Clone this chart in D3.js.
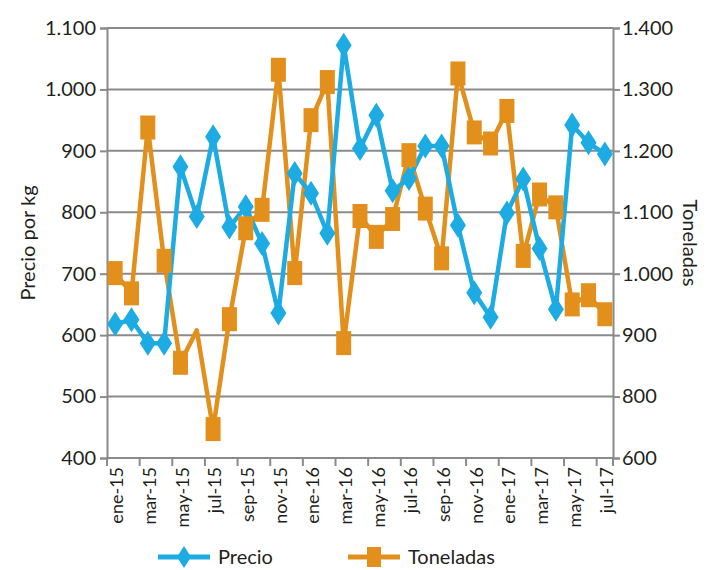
<!DOCTYPE html>
<html>
<head>
<meta charset="utf-8">
<script src="https://cdn.jsdelivr.net/npm/d3@7"></script>
<style>
  body { margin: 0; background: #fff; }
  text { font-family: "Lato", "Open Sans", sans-serif; fill: #231f20; }
</style>
</head>
<body>
<svg id="chart" width="713" height="570"></svg>
<script>
const months = ["ene-15","feb-15","mar-15","abr-15","may-15","jun-15","jul-15","ago-15","sep-15","oct-15","nov-15","dic-15",
                "ene-16","feb-16","mar-16","abr-16","may-16","jun-16","jul-16","ago-16","sep-16","oct-16","nov-16","dic-16",
                "ene-17","feb-17","mar-17","abr-17","may-17","jun-17","jul-17"];
const precio = [618,625,587,587,874,793,923,776,809,749,636,863,
                831,766,1072,904,958,835,855,908,908,779,669,629,
                799,854,741,642,942,913,895];
const toneladas = [1001,968,1238,1021,855,908,747,926,1074,1104,1332,1001,
                   1250,1312,887,1094,1060,1089,1193,1106,1025,1326,1230,1212,
                   1265,1029,1129,1108,950,965,934];
const toneladasNoMarker = ["jun-15"];
const leftTicks = [400,500,600,700,800,900,1000,1100];
const rightTicks = [700,800,900,1000,1100,1200,1300,1400];
const rightTickLabels = ["600","800","900","1.000","1.100","1.200","1.300","1.400"];

const svg = d3.select("#chart");
const L = 107, R = 613, T = 28, B = 458;
const blue = "#1cabe2", orange = "#e28f1c", grid = "#8a8a8a";

const x = d3.scaleBand().domain(months).range([L, R]).padding(0);
const cx = m => x(m) + x.bandwidth() / 2;
const yL = d3.scaleLinear().domain([400, 1100]).range([B, T]);
const yR = d3.scaleLinear().domain([700, 1400]).range([B, T]);

const fmt = d3.formatLocale({decimal: ",", thousands: ".", grouping: [3], currency: ["", ""]}).format(",d");

// gridlines
svg.append("g").selectAll("line").data(leftTicks).join("line")
  .attr("x1", L).attr("x2", R).attr("y1", d => yL(d)).attr("y2", d => yL(d))
  .attr("stroke", grid).attr("stroke-width", 2);

// left axis
const gL = svg.append("g").attr("transform", `translate(${L},0)`)
  .call(d3.axisLeft(yL).tickValues(leftTicks).tickFormat(fmt).tickSize(7).tickPadding(4));
// right axis
const gR = svg.append("g").attr("transform", `translate(${R},0)`)
  .call(d3.axisRight(yR).tickValues(rightTicks).tickFormat((d, i) => rightTickLabels[i]).tickSize(7).tickPadding(2));
[gL, gR].forEach(g => {
  g.select(".domain").attr("stroke", grid).attr("stroke-width", 2);
  g.selectAll(".tick line").attr("stroke", grid).attr("stroke-width", 2);
  g.selectAll(".tick text").attr("font-size", 20).style("fill", "#231f20")
    .style("font-family", "Lato, 'Open Sans', sans-serif");
});

// x axis
const labelMonths = months.filter((m, i) => i % 2 === 0);
const tickPos = labelMonths.map(m => x(m)).concat([R]);
const gX = svg.append("g");
gX.append("line").attr("x1", L).attr("x2", R).attr("y1", B).attr("y2", B)
  .attr("stroke", grid).attr("stroke-width", 2);
gX.selectAll("line.t").data(tickPos).join("line").attr("class", "t")
  .attr("x1", d => d).attr("x2", d => d).attr("y1", B).attr("y2", B + 8)
  .attr("stroke", grid).attr("stroke-width", 2);
gX.selectAll("text").data(labelMonths).join("text")
  .attr("transform", d => `translate(${cx(d) + 2},${B + 9}) rotate(-90)`)
  .attr("text-anchor", "end").attr("dy", "0.35em")
  .attr("font-size", 18).text(d => d);

// axis titles
svg.append("text").attr("transform", `translate(28,${(T + B) / 2 + 0}) rotate(-90)`)
  .attr("text-anchor", "middle").attr("dy", "0.35em").attr("font-size", 20).text("Precio por kg");
svg.append("text").attr("transform", `translate(690,${(T + B) / 2}) rotate(90)`)
  .attr("text-anchor", "middle").attr("dy", "0.35em").attr("font-size", 20).text("Toneladas");

// lines
const lineL = d3.line().x((d, i) => cx(months[i])).y(d => yL(d));
const lineR = d3.line().x((d, i) => cx(months[i])).y(d => yR(d));

const diamond = (s, px, py, w, h, c) => s.append("path")
  .attr("d", `M${px},${py - h / 2}L${px + w / 2},${py}L${px},${py + h / 2}L${px - w / 2},${py}Z`)
  .attr("fill", c);
const square = (s, px, py, w, h, c) => s.append("rect")
  .attr("x", px - w / 2).attr("y", py - h / 2).attr("width", w).attr("height", h).attr("fill", c);

// draw order: orange line, blue line, blue diamonds, orange squares
svg.append("path").datum(toneladas).attr("d", lineR).attr("fill", "none")
  .attr("stroke", orange).attr("stroke-width", 4.5).attr("stroke-linejoin", "round");
svg.append("path").datum(precio).attr("d", lineL).attr("fill", "none")
  .attr("stroke", blue).attr("stroke-width", 4.5).attr("stroke-linejoin", "round");
const gP = svg.append("g");
precio.forEach((v, i) => diamond(gP, cx(months[i]), yL(v), 16, 25, blue));
const gT = svg.append("g");
toneladas.forEach((v, i) => {
  if (toneladasNoMarker.includes(months[i])) return;
  square(gT, cx(months[i]), yR(v), 15, 24, orange);
});

// legend
const lg = svg.append("g");
lg.append("line").attr("x1", 158).attr("x2", 210).attr("y1", 557).attr("y2", 557)
  .attr("stroke", blue).attr("stroke-width", 5);
diamond(lg, 184, 557, 14, 22, blue);
lg.append("text").attr("x", 218).attr("y", 557).attr("dy", "0.35em").attr("font-size", 20).text("Precio");
lg.append("line").attr("x1", 348).attr("x2", 400).attr("y1", 557).attr("y2", 557)
  .attr("stroke", orange).attr("stroke-width", 5);
square(lg, 374, 557, 14, 20, orange);
lg.append("text").attr("x", 408).attr("y", 557).attr("dy", "0.35em").attr("font-size", 20).text("Toneladas");
</script>
</body>
</html>
